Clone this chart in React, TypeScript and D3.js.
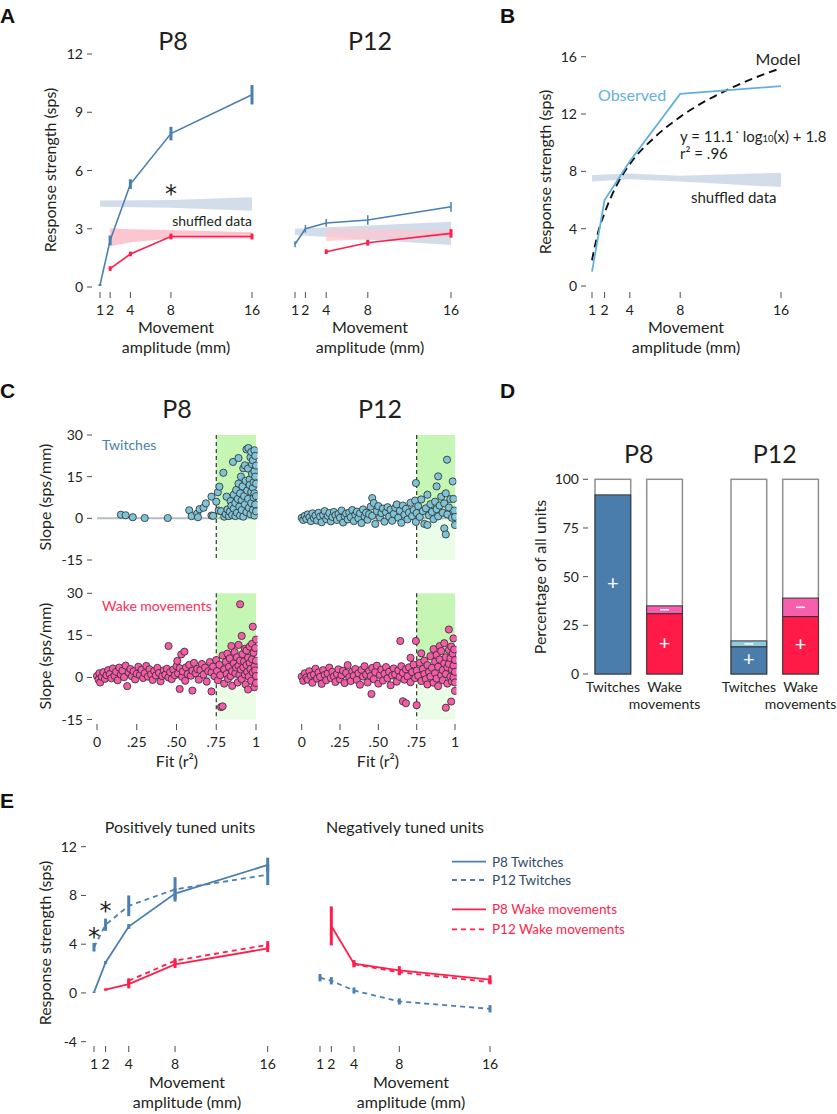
import React from 'react';
import * as d3 from 'd3';

const FONT = 'Lato, "Open Sans", sans-serif';
const TXT = '#231f20';
const BLUE = '#4a7fb1';
const RED = '#ff1e4b';
const LIGHTBLUE = '#62b1dc';
const SHUF_BLUE = '#d3ddea';
const SHUF_PINK = '#fcc6d0';
const DOT_TW = '#7fc3d7';
const DOT_WK = '#f45ca8';
const GREEN_D = '#c6f6b4';
const GREEN_L = '#ebfde6';

// ---------- shared ----------
const AMP = [1, 2, 4, 8, 16];
const AMP_LABELS = ['1', '2', '4', '8', '16'];

// ---------- Panel A ----------
const A_P8_TW_MEAN = [0.1, 2.4, 5.3, 7.9, 9.9];
const A_P8_TW_ERR = [0.05, 0.25, 0.25, 0.35, 0.5];
const A_P8_WK_AMP = [2, 4, 8, 16];
const A_P8_WK_MEAN = [0.95, 1.7, 2.6, 2.6];
const A_P8_WK_ERR = [0.12, 0.12, 0.15, 0.15];
const A_P8_TW_SHUF_AMP = [1, 8, 16];
const A_P8_TW_SHUF_LO = [4.13, 4.08, 3.93];
const A_P8_TW_SHUF_HI = [4.45, 4.48, 4.62];
const A_P8_WK_SHUF_AMP = [2, 4, 8, 16];
const A_P8_WK_SHUF_LO = [2.1, 2.3, 2.5, 2.5];
const A_P8_WK_SHUF_HI = [3.02, 2.98, 2.93, 2.82];

const A_P12_TW_MEAN = [2.2, 3.0, 3.3, 3.45, 4.13];
const A_P12_TW_ERR = [0.15, 0.2, 0.2, 0.25, 0.25];
const A_P12_WK_AMP = [4, 8, 16];
const A_P12_WK_MEAN = [1.82, 2.28, 2.76];
const A_P12_WK_ERR = [0.12, 0.15, 0.22];
const A_P12_TW_SHUF_AMP = [1, 16];
const A_P12_TW_SHUF_LO = [2.68, 2.16];
const A_P12_TW_SHUF_HI = [3.0, 3.36];
const A_P12_WK_SHUF_AMP = [4, 16];
const A_P12_WK_SHUF_LO = [2.37, 2.6];
const A_P12_WK_SHUF_HI = [2.97, 2.92];
const A_YTICKS = [0, 3, 6, 9, 12];

// ---------- Panel B ----------
const B_OBS = [1.0, 6.0, 8.7, 13.4, 13.95];
const B_MODEL_AMP = [1, 1.5, 2, 3, 4, 6, 8, 12, 16];
const B_MODEL = [1.8, 3.8, 5.1, 7.1, 8.5, 10.4, 11.8, 13.8, 15.2];
const B_SHUF_AMP = [1, 4, 8, 16];
const B_SHUF_LO = [7.3, 7.45, 7.3, 6.9];
const B_SHUF_HI = [7.75, 7.85, 7.7, 7.9];
const B_YTICKS = [0, 4, 8, 12, 16];

// ---------- Panel C ----------
const C_XTICKS = [0, 0.25, 0.5, 0.75, 1];
const C_XLABELS = ['0', '.25', '.50', '.75', '1'];
const C_YTICKS = [-15, 0, 15, 30];

const C_P8_TW: [number, number][] = [
  [0.15, 1.3], [0.18, 1.1], [0.225, 0.4], [0.3, 0.1], [0.445, 0.1], [0.58, 2.9], [0.595, 0.8], [0.63, 1.7],
  [0.635, 0.4], [0.645, 3.3], [0.67, 3.8], [0.685, 5.4], [0.72, 7.8], [0.72, 1.0], [0.73, 0.9], [0.75, 6.0],
  [0.76, 9.4], [0.77, 11.4], [0.765, 2.8], [0.78, 2.6], [0.795, 16.4], [0.8, 0.6], [0.81, 1.5], [0.815, 7.8],
  [0.82, 3.2], [0.83, 0.8], [0.835, 2.4], [0.84, 6.2], [0.845, 4.5], [0.85, 1.2], [0.855, 20.3], [0.86, 8.5],
  [0.86, 3.5], [0.87, 0.8], [0.87, 5.5], [0.875, 10.2], [0.88, 2.0], [0.885, 7.0], [0.89, 21.7], [0.89, 12.5],
  [0.895, 4.2], [0.9, 1.0], [0.9, 9.0], [0.905, 15.0], [0.91, 6.5], [0.91, 3.0], [0.915, 11.5], [0.92, 0.6],
  [0.92, 18.0], [0.925, 8.0], [0.93, 19.1], [0.93, 5.0], [0.935, 13.5], [0.94, 24.8], [0.94, 2.2], [0.945, 10.0],
  [0.95, 17.9], [0.95, 7.0], [0.952, 25.3], [0.955, 3.8], [0.96, 14.0], [0.96, 12.0], [0.965, 22.0], [0.965, 1.5],
  [0.97, 23.9], [0.97, 9.5], [0.97, 5.5], [0.975, 16.0], [0.975, 19.5], [0.98, 20.9], [0.98, 11.0], [0.98, 3.0],
  [0.985, 13.0], [0.985, 7.5], [0.99, 24.5], [0.99, 17.0], [0.99, 9.0], [0.99, 1.0], [0.995, 22.5], [0.995, 15.0],
  [0.995, 5.0], [1.0, 19.0], [1.0, 12.5], [1.0, 2.5], [1.0, 8.0],
];

const C_P8_WK: [number, number][] = [
  [0.0, 0.5], [0.01, -0.8], [0.015, 1.5], [0.02, -1.8], [0.03, 0.2], [0.04, 1.9], [0.05, -0.5], [0.06, 0.8],
  [0.07, 2.6], [0.08, 1.2], [0.09, -0.3], [0.1, 3.2], [0.11, 0.6], [0.12, 2.0], [0.13, -1.0], [0.14, 3.5],
  [0.15, 1.0], [0.16, 2.4], [0.17, 0.1], [0.18, 4.2], [0.19, -3.1], [0.2, 1.7], [0.21, 3.0], [0.22, 0.4],
  [0.23, 2.2], [0.24, -0.7], [0.25, 1.3], [0.26, 3.8], [0.27, 0.9], [0.28, 2.7], [0.29, -0.2], [0.3, 1.5],
  [0.31, 4.1], [0.32, 0.3], [0.33, 2.9], [0.34, 1.1], [0.35, -0.9], [0.36, 2.3], [0.37, 0.7], [0.38, 3.4],
  [0.39, 1.6], [0.4, -1.4], [0.41, 0.5], [0.42, 2.5], [0.43, 1.0], [0.44, 3.1], [0.45, 11.2], [0.45, 0.0],
  [0.46, 1.9], [0.47, -0.6], [0.48, 2.8], [0.49, 0.8], [0.5, 4.0], [0.505, 5.9], [0.51, 1.4], [0.52, -4.1],
  [0.52, 3.3], [0.53, 8.2], [0.535, 0.2], [0.54, 2.1], [0.55, 9.2], [0.555, -1.2], [0.56, 3.6], [0.57, 1.2],
  [0.58, 4.5], [0.59, 0.6], [0.6, -4.7], [0.6, 2.4], [0.61, 5.2], [0.62, 1.5], [0.63, 3.0], [0.64, -0.8],
  [0.65, 2.6], [0.66, 4.8], [0.67, 1.0], [0.68, 3.5], [0.69, -1.5], [0.7, 2.2], [0.71, 5.5], [0.72, -5.0],
  [0.72, 1.8], [0.73, 3.9], [0.74, 0.4], [0.75, 6.2], [0.755, 2.3], [0.76, -1.0], [0.77, 4.5], [0.775, 0.8],
  [0.78, -10.6], [0.79, -10.3], [0.79, 7.8], [0.8, 2.9], [0.8, -2.2], [0.81, 5.5], [0.815, 1.2], [0.82, 8.5],
  [0.825, -0.5], [0.83, 3.8], [0.835, 6.8], [0.84, 0.5], [0.845, 11.2], [0.85, 2.2], [0.85, -3.0], [0.86, 5.0],
  [0.865, 9.0], [0.87, 1.5], [0.875, 3.5], [0.88, 7.2], [0.885, -1.8], [0.89, 11.6], [0.89, 4.2], [0.895, 0.9],
  [0.9, 26.1], [0.9, 6.0], [0.905, 2.8], [0.91, 14.8], [0.91, -0.6], [0.915, 8.3], [0.92, 3.6], [0.925, 5.7],
  [0.93, 1.0], [0.93, 10.2], [0.935, -2.5], [0.94, 9.6], [0.94, 4.4], [0.945, 2.0], [0.95, -4.3], [0.95, 7.0],
  [0.955, 0.3], [0.96, 5.2], [0.96, 11.0], [0.965, 3.0], [0.97, -1.2], [0.975, 12.0], [0.975, 6.5], [0.98, 18.1],
  [0.98, 1.8], [0.985, 8.8], [0.99, 4.0], [0.99, -3.5], [0.995, 10.5], [0.995, 2.5], [1.0, 6.0], [1.0, 0.5],
  [1.0, 13.5], [1.0, -2.0],
];

const C_P12_TW: [number, number][] = [
  [0.0, 0.2], [0.01, -0.6], [0.02, 0.9], [0.03, -0.2], [0.04, 1.4], [0.05, 0.4], [0.06, -1.0], [0.07, 1.8],
  [0.08, 0.1], [0.09, 1.0], [0.1, -0.8], [0.11, 2.0], [0.12, 0.6], [0.13, -1.4], [0.14, 1.2], [0.15, 2.6],
  [0.16, -0.3], [0.17, 0.9], [0.18, 1.9], [0.19, -1.1], [0.2, 0.5], [0.21, 2.3], [0.22, 1.1], [0.23, -0.6],
  [0.24, 1.6], [0.25, 0.2], [0.26, 2.8], [0.27, -1.5], [0.28, 0.8], [0.29, 1.7], [0.3, -0.4], [0.31, 2.1],
  [0.32, 0.4], [0.33, 3.0], [0.34, -1.0], [0.35, 1.3], [0.36, 2.4], [0.37, 0.0], [0.38, 1.8], [0.39, -1.7],
  [0.4, 3.2], [0.41, 0.7], [0.42, 2.0], [0.43, -0.5], [0.44, 1.5], [0.45, 4.2], [0.46, 7.3], [0.46, 0.9],
  [0.47, 5.5], [0.48, -2.0], [0.49, 2.6], [0.5, 4.4], [0.51, 0.3], [0.52, 1.9], [0.53, 3.5], [0.54, -1.2],
  [0.55, 2.2], [0.56, 4.0], [0.57, 0.6], [0.58, 3.1], [0.59, -0.9], [0.6, 1.6], [0.61, 3.8], [0.62, 5.0],
  [0.63, 0.2], [0.64, 2.7], [0.65, -1.6], [0.66, 4.6], [0.67, 1.3], [0.68, 3.4], [0.69, -0.4], [0.7, 2.1],
  [0.71, 5.6], [0.72, 0.8], [0.73, 3.0], [0.74, 6.4], [0.745, 12.7], [0.745, -1.3], [0.75, 1.9], [0.76, 4.4],
  [0.77, 0.5], [0.78, 6.8], [0.79, 2.6], [0.8, -2.0], [0.81, 3.6], [0.82, -2.4], [0.82, 8.5], [0.83, 1.1],
  [0.84, 5.1], [0.85, 2.3], [0.86, -0.3], [0.87, 6.0], [0.88, 11.5], [0.88, 3.3], [0.89, 15.1], [0.89, 0.7],
  [0.9, 4.6], [0.91, 7.8], [0.92, 2.0], [0.93, -3.6], [0.93, 5.4], [0.94, -5.8], [0.94, 9.0], [0.948, 21.1],
  [0.95, 1.4], [0.96, 3.9], [0.97, 6.9], [0.98, 0.2], [0.985, 13.3], [0.99, 7.0], [0.995, 2.8], [1.0, -2.4],
  [1.0, 0.5],
];

const C_P12_WK: [number, number][] = [
  [0.0, 0.3], [0.01, -1.2], [0.02, 1.5], [0.03, 0.0], [0.04, -0.8], [0.05, 2.2], [0.06, 0.6], [0.07, -1.9],
  [0.08, 1.0], [0.09, 3.1], [0.1, -0.4], [0.11, 1.8], [0.12, 0.2], [0.13, -2.3], [0.14, 2.6], [0.15, 0.9],
  [0.16, -1.0], [0.17, 1.4], [0.18, 3.5], [0.19, -0.2], [0.2, 2.0], [0.21, 0.4], [0.22, -1.6], [0.23, 1.2],
  [0.24, 2.9], [0.25, -0.7], [0.26, 0.8], [0.27, 2.4], [0.28, -2.0], [0.29, 1.6], [0.3, 4.4], [0.31, 0.1],
  [0.32, -1.3], [0.33, 2.1], [0.34, 0.6], [0.35, 3.0], [0.36, -0.9], [0.37, 1.5], [0.38, -2.6], [0.39, 2.7],
  [0.4, 0.3], [0.41, 4.0], [0.42, 1.0], [0.43, -1.8], [0.44, 2.3], [0.455, -5.9], [0.45, 0.5], [0.46, 3.4],
  [0.47, -0.6], [0.48, 1.9], [0.49, 4.2], [0.5, -2.2], [0.51, 0.9], [0.52, 2.8], [0.53, -1.1], [0.54, 1.3],
  [0.55, 3.7], [0.56, -0.3], [0.57, 2.0], [0.58, -2.8], [0.59, 0.7], [0.6, 3.2], [0.61, 1.1], [0.62, -1.5],
  [0.63, 2.5], [0.643, 13.0], [0.64, 0.2], [0.65, 4.0], [0.66, -8.5], [0.66, 1.6], [0.67, -0.8], [0.68, -9.2],
  [0.68, 2.9], [0.69, 0.4], [0.7, 3.6], [0.71, 7.0], [0.71, -1.7], [0.72, 1.9], [0.73, 4.6], [0.74, -0.2],
  [0.745, 13.0], [0.75, -9.9], [0.75, 2.4], [0.76, 0.6], [0.77, 5.2], [0.78, 8.6], [0.78, -1.3], [0.79, 3.0],
  [0.8, 1.2], [0.8, 6.0], [0.81, -0.6], [0.82, -2.5], [0.82, 4.4], [0.83, 2.0], [0.84, 7.6], [0.84, 0.3],
  [0.85, 3.4], [0.86, 10.1], [0.86, -1.9], [0.87, 5.6], [0.87, 1.5], [0.88, 8.0], [0.88, -0.4], [0.89, -3.1],
  [0.89, 3.8], [0.9, 11.2], [0.9, 6.4], [0.91, 0.8], [0.91, 9.4], [0.92, 2.6], [0.92, -1.0], [0.93, 5.0],
  [0.93, 12.2], [0.94, -10.8], [0.94, 7.2], [0.94, 1.2], [0.95, 3.6], [0.95, -2.2], [0.96, 17.1], [0.96, 9.8],
  [0.96, 4.8], [0.97, 0.2], [0.97, 6.9], [0.975, -8.6], [0.975, 11.0], [0.98, 2.8], [0.98, -1.4], [0.985, 8.5],
  [0.99, 13.9], [0.99, 4.2], [0.99, 0.0], [0.995, 10.0], [1.0, -4.8], [1.0, 6.2], [1.0, 2.0], [1.0, -1.8],
];

// ---------- Panel D ----------
const D_GROUPS = ['P8', 'P12'];
const D_CATS = ['Twitches', 'Wake movements'];
const D_P8_POS = [92, 31];
const D_P8_NEG = [0, 4];
const D_P12_POS = [14, 29.5];
const D_P12_NEG = [3, 9.5];
const D_YTICKS = [0, 25, 50, 75, 100];

// ---------- Panel E ----------
const E_YTICKS = [-4, 0, 4, 8, 12];
const E_POS_P8_TW = [0.05, 2.5, 5.45, 8.15, 10.5];
const E_POS_P8_TW_ERR = [0.05, 0.12, 0.2, 0.45, 0.6];
const E_POS_P12_TW = [3.75, 5.6, 7.15, 8.5, 9.7];
const E_POS_P12_TW_ERR = [0.35, 0.5, 0.85, 1.0, 0.85];
const E_POS_P8_WK_AMP = [2, 4, 8, 16];
const E_POS_P8_WK = [0.28, 0.72, 2.35, 3.65];
const E_POS_P8_WK_ERR = [0.1, 0.35, 0.3, 0.3];
const E_POS_P12_WK_AMP = [4, 8, 16];
const E_POS_P12_WK = [1.0, 2.65, 3.95];
const E_POS_P12_WK_ERR = [0.2, 0.2, 0.3];
const E_NEG_P8_WK_AMP = [2, 4, 8, 16];
const E_NEG_P8_WK = [5.5, 2.4, 1.85, 1.1];
const E_NEG_P8_WK_ERR = [1.6, 0.3, 0.35, 0.35];
const E_NEG_P12_WK_AMP = [4, 8, 16];
const E_NEG_P12_WK = [2.35, 1.7, 0.9];
const E_NEG_P12_WK_ERR = [0.2, 0.25, 0.2];
const E_NEG_P12_TW = [1.25, 1.0, 0.2, -0.7, -1.3];
const E_NEG_P12_TW_ERR = [0.3, 0.3, 0.25, 0.25, 0.3];
const E_LEGEND = ['P8 Twitches', 'P12 Twitches', 'P8 Wake movements', 'P12 Wake movements'];

type Scale = d3.ScaleLinear<number, number>;

const TICK_FS = 14;
const TITLE_FS = 16;

function YTicks({ scale, ticks, x }: { scale: Scale; ticks: number[]; x: number }) {
  return (
    <g>
      {ticks.map((t) => (
        <g key={t}>
          <text x={x - 9} y={scale(t) + 5} textAnchor="end" fontSize={TICK_FS} fill={TXT}>
            {String(t)}
          </text>
          <line x1={x - 5} x2={x} y1={scale(t)} y2={scale(t)} stroke={TXT} strokeWidth={0.8} />
        </g>
      ))}
    </g>
  );
}

function XTicks({ scale, ticks, labels, y }: { scale: Scale; ticks: number[]; labels: string[]; y: number }) {
  return (
    <g>
      {ticks.map((t, i) => (
        <g key={t}>
          <line x1={scale(t)} x2={scale(t)} y1={y} y2={y + 6} stroke={TXT} strokeWidth={0.8} />
          <text x={scale(t)} y={y + 23} textAnchor="middle" fontSize={TICK_FS} fill={TXT}>
            {labels[i]}
          </text>
        </g>
      ))}
    </g>
  );
}

function Series({ xs, ys, errs, x, y, color, dash, width = 1.6, errWidth = 3 }: any) {
  const line = d3.line<number>().x((_, i) => x(xs[i])).y((d) => y(d));
  return (
    <g>
      <path d={line(ys) || ''} fill="none" stroke={color} strokeWidth={width} strokeDasharray={dash} />
      {errs &&
        ys.map((v: number, i: number) => (
          <line key={i} x1={x(xs[i])} x2={x(xs[i])} y1={y(v - errs[i])} y2={y(v + errs[i])} stroke={color} strokeWidth={errWidth} />
        ))}
    </g>
  );
}

function Band({ xs, lo, hi, x, y, fill }: any) {
  const area = d3
    .area<number>()
    .x((d) => x(d))
    .y0((_, i) => y(lo[i]))
    .y1((_, i) => y(hi[i]));
  return <path d={area(xs) || ''} fill={fill} />;
}

function RotLabel({ x, y, text, size = TITLE_FS }: { x: number; y: number; text: string; size?: number }) {
  return (
    <text transform={`translate(${x},${y}) rotate(-90)`} textAnchor="middle" fontSize={size} fill={TXT}>
      {text}
    </text>
  );
}

function AmpTitle({ x, y }: { x: number; y: number }) {
  return (
    <g fontSize={TITLE_FS} fill={TXT} textAnchor="middle">
      <text x={x} y={y}>Movement</text>
      <text x={x} y={y + 20}>amplitude (mm)</text>
    </g>
  );
}

function Letter({ x, y, t }: { x: number; y: number; t: string }) {
  return (
    <text x={x} y={y} fontSize={21} fontWeight="bold" fontFamily='"Liberation Sans", Arial, sans-serif' fill="#111">
      {t}
    </text>
  );
}

function Star({ x, y }: { x: number; y: number }) {
  return (
    <text x={x} y={y} textAnchor="middle" fontSize={24} fontFamily='"DejaVu Sans", sans-serif' fill={TXT}>*</text>
  );
}

function ScatterPanel({ pts, x, y, fill, clipId }: { pts: [number, number][]; x: Scale; y: Scale; fill: string; clipId: string }) {
  return (
    <g>
      <defs>
        <clipPath id={clipId}>
          <rect x={x(0) - 8} y={y(30) - 10} width={x(1) - x(0) + 9.5} height={y(-15) - y(30) + 20} />
        </clipPath>
      </defs>
      <rect x={x(0.75)} y={y(30)} width={x(1) - x(0.75)} height={y(0) - y(30)} fill={GREEN_D} />
      <rect x={x(0.75)} y={y(0)} width={x(1) - x(0.75)} height={y(-15) - y(0)} fill={GREEN_L} />
      <line x1={x(0)} x2={x(1)} y1={y(0)} y2={y(0)} stroke="#b5bec3" strokeWidth={2} />
      <line x1={x(0.75)} x2={x(0.75)} y1={y(30)} y2={y(-15)} stroke="#222" strokeWidth={1.1} strokeDasharray="4,3" />
      <g clipPath={`url(#${clipId})`}>
        {pts.map(([a, b], i) => (
          <circle key={i} cx={x(a)} cy={y(b)} r={3.6} fill={fill} stroke="#2b2b2b" strokeWidth={0.8} />
        ))}
      </g>
    </g>
  );
}

export default function App() {
  // ----- A -----
  const aY = d3.scaleLinear().domain([0, 12]).range([287, 54]);
  const aX8 = d3.scaleLinear().domain([1, 16]).range([100, 252]);
  const aX12 = d3.scaleLinear().domain([1, 16]).range([295, 451]);
  // ----- B -----
  const bX = d3.scaleLinear().domain([1, 16]).range([592, 781]);
  const bY = d3.scaleLinear().domain([0, 16]).range([286, 56.7]);
  // ----- C -----
  const cX8 = d3.scaleLinear().domain([0, 1]).range([97, 256]);
  const cX12 = d3.scaleLinear().domain([0, 1]).range([301.7, 455]);
  const cYt = d3.scaleLinear().domain([-15, 30]).range([560, 435]);
  const cYb = d3.scaleLinear().domain([-15, 30]).range([719.5, 593.3]);
  // ----- D -----
  const dY = d3.scaleLinear().domain([0, 100]).range([674, 479.3]);
  const dBarX = [595, 646.7, 731, 782.7];
  const dBarW = 35.7;
  const dColsPos = ['#4a7dab', '#ff1a47'];
  const dColsNeg = ['#8fcbe0', '#f65fac'];
  // ----- E -----
  const eY = d3.scaleLinear().domain([-4, 12]).range([1041.7, 846.7]);
  const eXL = d3.scaleLinear().domain([1, 16]).range([94, 267.7]);
  const eXR = d3.scaleLinear().domain([1, 16]).range([320, 490]);

  const legendColors = [BLUE, BLUE, RED, RED];
  const legendText = ['#2e4a66', '#2e4a66', RED, RED];
  const legendDash = [undefined, '5,4', undefined, '5,4'];
  const legendY = [861.7, 880, 909.3, 929.3];

  const bModelLine = d3
    .line<number>()
    .x((_, i) => bX(B_MODEL_AMP[i]))
    .y((d) => bY(d))
    .curve(d3.curveMonotoneX);

  return (
    <svg
      width={837}
      height={1114}
      style={{ position: 'absolute', left: 0, top: 0, background: '#fff' }}
      fontFamily={FONT}
    >
      <rect width={837} height={1114} fill="#fff" />

      {/* ================= A ================= */}
      <Letter x={0} y={23} t="A" />
      <text x={173} y={50} textAnchor="middle" fontSize={25} fill={TXT}>P8</text>
      <text x={370} y={50} textAnchor="middle" fontSize={25} fill={TXT}>P12</text>
      <YTicks scale={aY} ticks={A_YTICKS} x={92} />
      <RotLabel x={56} y={170} text="Response strength (sps)" />
      <XTicks scale={aX8} ticks={AMP} labels={AMP_LABELS} y={292} />
      <XTicks scale={aX12} ticks={AMP} labels={AMP_LABELS} y={292} />
      <AmpTitle x={176} y={333} />
      <AmpTitle x={370} y={333} />
      <Band xs={A_P8_TW_SHUF_AMP} lo={A_P8_TW_SHUF_LO} hi={A_P8_TW_SHUF_HI} x={aX8} y={aY} fill={SHUF_BLUE} />
      <Band xs={A_P8_WK_SHUF_AMP} lo={A_P8_WK_SHUF_LO} hi={A_P8_WK_SHUF_HI} x={aX8} y={aY} fill={SHUF_PINK} />
      <Series xs={AMP} ys={A_P8_TW_MEAN} errs={A_P8_TW_ERR} x={aX8} y={aY} color={BLUE} />
      <Series xs={A_P8_WK_AMP} ys={A_P8_WK_MEAN} errs={A_P8_WK_ERR} x={aX8} y={aY} color={RED} />
      <Star x={171} y={202} />
      <text x={252} y={226} textAnchor="end" fontSize={14} fill={TXT}>shuffled data</text>

      <Band xs={A_P12_TW_SHUF_AMP} lo={A_P12_TW_SHUF_LO} hi={A_P12_TW_SHUF_HI} x={aX12} y={aY} fill={SHUF_BLUE} />
      <g opacity={0.75}>
        <Band xs={A_P12_WK_SHUF_AMP} lo={A_P12_WK_SHUF_LO} hi={A_P12_WK_SHUF_HI} x={aX12} y={aY} fill={SHUF_PINK} />
      </g>
      <Series xs={AMP} ys={A_P12_TW_MEAN} errs={A_P12_TW_ERR} x={aX12} y={aY} color={BLUE} errWidth={1.5} />
      <Series xs={A_P12_WK_AMP} ys={A_P12_WK_MEAN} errs={A_P12_WK_ERR} x={aX12} y={aY} color={RED} />

      {/* ================= B ================= */}
      <Letter x={500} y={23} t="B" />
      <YTicks scale={bY} ticks={B_YTICKS} x={586} />
      <RotLabel x={551} y={172} text="Response strength (sps)" />
      <XTicks scale={bX} ticks={AMP} labels={AMP_LABELS} y={292} />
      <AmpTitle x={686} y={333} />
      <Band xs={B_SHUF_AMP} lo={B_SHUF_LO} hi={B_SHUF_HI} x={bX} y={bY} fill={SHUF_BLUE} />
      <path d={bModelLine(B_MODEL) || ''} fill="none" stroke="#111" strokeWidth={1.9} strokeDasharray="8,5" />
      <Series xs={AMP} ys={B_OBS} x={bX} y={bY} color={LIGHTBLUE} width={1.8} />
      <text x={778} y={65} textAnchor="middle" fontSize={16} fill={TXT}>Model</text>
      <text x={598} y={101} fontSize={16} fill={LIGHTBLUE}>Observed</text>
      <text x={680} y={142} fontSize={15} fill={TXT}>
        y = 11.1
        <tspan fontSize={8} dy={-5}> *</tspan>
        <tspan dy={5}> log</tspan>
        <tspan fontSize={9.5}>10</tspan>
        <tspan>(x) + 1.8</tspan>
      </text>
      <text x={680} y={159} fontSize={15} fill={TXT}>r² = .96</text>
      <text x={691} y={203} fontSize={15} fill={TXT}>shuffled data</text>

      {/* ================= C ================= */}
      <Letter x={0} y={398} t="C" />
      <text x={177} y={418} textAnchor="middle" fontSize={25} fill={TXT}>P8</text>
      <text x={380} y={418} textAnchor="middle" fontSize={25} fill={TXT}>P12</text>
      <YTicks scale={cYt} ticks={C_YTICKS} x={92} />
      <YTicks scale={cYb} ticks={C_YTICKS} x={92} />
      <RotLabel x={51} y={497} text="Slope (sps/mm)" />
      <RotLabel x={51} y={656} text="Slope (sps/mm)" />
      <ScatterPanel pts={C_P8_TW} x={cX8} y={cYt} fill={DOT_TW} clipId="c1" />
      <ScatterPanel pts={C_P12_TW} x={cX12} y={cYt} fill={DOT_TW} clipId="c2" />
      <ScatterPanel pts={C_P8_WK} x={cX8} y={cYb} fill={DOT_WK} clipId="c3" />
      <ScatterPanel pts={C_P12_WK} x={cX12} y={cYb} fill={DOT_WK} clipId="c4" />
      <text x={102} y={450} fontSize={14} fill="#4b80b0">Twitches</text>
      <text x={102} y={611} fontSize={14} fill="#ff2d5a">Wake movements</text>
      <XTicks scale={cX8} ticks={C_XTICKS} labels={C_XLABELS} y={724} />
      <XTicks scale={cX12} ticks={C_XTICKS} labels={C_XLABELS} y={724} />
      <text x={177} y={767} textAnchor="middle" fontSize={TITLE_FS} fill={TXT}>Fit (r²)</text>
      <text x={378} y={767} textAnchor="middle" fontSize={TITLE_FS} fill={TXT}>Fit (r²)</text>

      {/* ================= D ================= */}
      <Letter x={500} y={398} t="D" />
      <YTicks scale={dY} ticks={D_YTICKS} x={588} />
      <RotLabel x={546} y={577} text="Percentage of all units" />
      {D_GROUPS.map((g, gi) => {
        const pos = gi === 0 ? D_P8_POS : D_P12_POS;
        const neg = gi === 0 ? D_P8_NEG : D_P12_NEG;
        const gx = (dBarX[gi * 2] + dBarX[gi * 2 + 1] + dBarW) / 2;
        return (
          <g key={g}>
            <text x={gx} y={463} textAnchor="middle" fontSize={25} fill={TXT}>{g}</text>
            {D_CATS.map((c, ci) => {
              const bx = dBarX[gi * 2 + ci];
              const cx = bx + dBarW / 2;
              const p = pos[ci];
              const n = neg[ci];
              return (
                <g key={c}>
                  <rect x={bx} y={dY(100)} width={dBarW} height={dY(0) - dY(100)} fill="#fff" stroke="#8f8f8f" strokeWidth={1.5} />
                  <rect x={bx} y={dY(p)} width={dBarW} height={dY(0) - dY(p)} fill={dColsPos[ci]} stroke="#333" strokeWidth={1} />
                  {n > 0 && (
                    <rect x={bx} y={dY(p + n)} width={dBarW} height={dY(p) - dY(p + n)} fill={dColsNeg[ci]} stroke="#333" strokeWidth={1} />
                  )}
                  <text x={cx} y={(dY(0) + dY(p)) / 2 + 6} textAnchor="middle" fontSize={20} fill="#fff">+</text>
                  {n > 0 && (
                    <line x1={cx - 4.5} x2={cx + 4.5} y1={(dY(p) + dY(p + n)) / 2} y2={(dY(p) + dY(p + n)) / 2} stroke="#fff" strokeWidth={1.5} />
                  )}
                  {ci === 0 ? (
                    <text x={cx} y={692} textAnchor="middle" fontSize={TICK_FS} fill={TXT}>Twitches</text>
                  ) : (
                    <g fontSize={TICK_FS} fill={TXT} textAnchor="middle">
                      <text x={cx} y={692}>Wake</text>
                      <text x={cx} y={709}>movements</text>
                    </g>
                  )}
                </g>
              );
            })}
          </g>
        );
      })}

      {/* ================= E ================= */}
      <Letter x={0} y={808} t="E" />
      <text x={180} y={833} textAnchor="middle" fontSize={TITLE_FS} fill={TXT}>Positively tuned units</text>
      <text x={405} y={833} textAnchor="middle" fontSize={TITLE_FS} fill={TXT}>Negatively tuned units</text>
      <YTicks scale={eY} ticks={E_YTICKS} x={86} />
      <RotLabel x={51} y={943} text="Response strength (sps)" />
      <XTicks scale={eXL} ticks={AMP} labels={AMP_LABELS} y={1046} />
      <XTicks scale={eXR} ticks={AMP} labels={AMP_LABELS} y={1046} />
      <AmpTitle x={187} y={1088} />
      <AmpTitle x={411} y={1088} />

      <Series xs={AMP} ys={E_POS_P12_TW} errs={E_POS_P12_TW_ERR} x={eXL} y={eY} color={BLUE} dash="5,4" width={1.8} />
      <Series xs={AMP} ys={E_POS_P8_TW} errs={E_POS_P8_TW_ERR} x={eXL} y={eY} color={BLUE} width={1.8} />
      <Series xs={E_POS_P12_WK_AMP} ys={E_POS_P12_WK} errs={E_POS_P12_WK_ERR} x={eXL} y={eY} color={RED} dash="5,4" width={1.8} />
      <Series xs={E_POS_P8_WK_AMP} ys={E_POS_P8_WK} errs={E_POS_P8_WK_ERR} x={eXL} y={eY} color={RED} width={1.8} />
      <Star x={94} y={945} />
      <Star x={105.5} y={918.5} />

      <Series xs={AMP} ys={E_NEG_P12_TW} errs={E_NEG_P12_TW_ERR} x={eXR} y={eY} color={BLUE} dash="5,4" width={1.8} />
      <Series xs={E_NEG_P12_WK_AMP} ys={E_NEG_P12_WK} errs={E_NEG_P12_WK_ERR} x={eXR} y={eY} color={RED} dash="5,4" width={1.8} />
      <Series xs={E_NEG_P8_WK_AMP} ys={E_NEG_P8_WK} errs={E_NEG_P8_WK_ERR} x={eXR} y={eY} color={RED} width={1.8} />

      {E_LEGEND.map((l, i) => (
        <g key={l}>
          <line x1={452} x2={486} y1={legendY[i]} y2={legendY[i]} stroke={legendColors[i]} strokeWidth={1.8} strokeDasharray={legendDash[i]} />
          <text x={492} y={legendY[i] + 5} fontSize={13.5} fill={legendText[i]}>{l}</text>
        </g>
      ))}
    </svg>
  );
}
